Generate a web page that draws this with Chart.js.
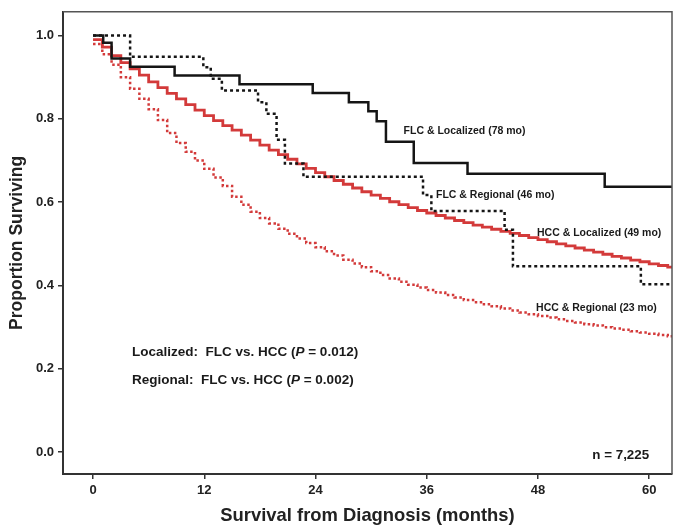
<!DOCTYPE html>
<html>
<head>
<meta charset="utf-8">
<script src="https://cdn.jsdelivr.net/npm/chart.js@4/dist/chart.umd.min.js"></script>
<style>
  body { margin: 0; background: #fff; }
  #caixa { width: 682px; height: 532px; }
</style>
</head>
<body>
<div id="caixa"><canvas id="grafico"></canvas></div>
<script>
// ticks
var ticksMeses = [0, 12, 24, 36, 48, 60];
var ticksProporcao = [0.0, 0.2, 0.4, 0.6, 0.8, 1.0];

// FLC & Localized (black solid)
var flcLocMeses = [0, 1.1, 2.0, 4.0, 8.8, 15.8, 23.7, 27.6, 29.7, 30.6, 31.6, 34.6, 40.4, 55.2, 63];
var flcLocValores = [1.0, 0.983, 0.945, 0.925, 0.904, 0.883, 0.862, 0.840, 0.818, 0.794, 0.745, 0.694, 0.668, 0.637, 0.637];

// FLC & Regional (black dotted)
var flcRegMeses = [0, 4.0, 11.9, 12.7, 13.9, 17.8, 18.7, 19.8, 20.7, 22.7, 35.6, 36.5, 44.4, 45.3, 59.1, 63];
var flcRegValores = [1.0, 0.949, 0.924, 0.896, 0.868, 0.840, 0.812, 0.750, 0.693, 0.661, 0.617, 0.579, 0.534, 0.446, 0.403, 0.403];

// HCC (steps roughly monthly)
var hccMeses = [0, 1, 2, 3, 4, 5, 6, 7, 8, 9, 10, 11, 12, 13, 14, 15, 16, 17, 18, 19, 20,
  21, 22, 23, 24, 25, 26, 27, 28, 29, 30, 31, 32, 33, 34, 35, 36, 37, 38, 39, 40, 41, 42,
  43, 44, 45, 46, 47, 48, 49, 50, 51, 52, 53, 54, 55, 56, 57, 58, 59, 60, 61, 62, 63];

var hccLocValores = [0.990, 0.972, 0.952, 0.935, 0.920, 0.905, 0.889, 0.875, 0.861, 0.848,
  0.834, 0.821, 0.808, 0.796, 0.784, 0.773, 0.761, 0.749, 0.737, 0.725, 0.714, 0.703, 0.692,
  0.681, 0.671, 0.661, 0.652, 0.643, 0.634, 0.625, 0.617, 0.609, 0.601, 0.594, 0.587, 0.580,
  0.574, 0.568, 0.562, 0.556, 0.551, 0.545, 0.540, 0.535, 0.530, 0.525, 0.520, 0.515, 0.510,
  0.505, 0.500, 0.495, 0.490, 0.485, 0.480, 0.475, 0.470, 0.466, 0.461, 0.457, 0.452, 0.448,
  0.444, 0.441];

var hccRegValores = [0.980, 0.955, 0.930, 0.900, 0.872, 0.848, 0.823, 0.797, 0.766, 0.742,
  0.721, 0.700, 0.680, 0.659, 0.639, 0.613, 0.594, 0.577, 0.562, 0.549, 0.536, 0.524, 0.513,
  0.502, 0.492, 0.482, 0.472, 0.462, 0.453, 0.444, 0.434, 0.425, 0.417, 0.409, 0.402, 0.395,
  0.389, 0.383, 0.377, 0.371, 0.365, 0.360, 0.355, 0.350, 0.345, 0.340, 0.335, 0.331, 0.327,
  0.323, 0.319, 0.315, 0.311, 0.307, 0.304, 0.300, 0.297, 0.294, 0.290, 0.287, 0.284, 0.281,
  0.278, 0.276];

var nomesSeries = ['FLC & Localized (78 mo)', 'FLC & Regional (46 mo)', 'HCC & Localized (49 mo)', 'HCC & Regional (23 mo)'];

function pontos(meses, valores) {
  var lista = [];
  for (var i = 0; i < meses.length; i++) {
    lista.push({ x: meses[i], y: valores[i] });
  }
  return lista;
}

var preto = '#151515';
var vermelho = '#d33a3a';
var fonte = '"Liberation Sans", Arial, sans-serif';

// where the text labels sit, in data units
var rotulos = [
  { texto: nomesSeries[0], x: 33.5, y: 0.771 },
  { texto: nomesSeries[1], x: 37.0, y: 0.616 },
  { texto: nomesSeries[2], x: 47.9, y: 0.525 },
  { texto: nomesSeries[3], x: 47.8, y: 0.346 }
];

var pluginTextos = {
  id: 'textos',
  afterDatasetsDraw: function (chart) {
    var ctx = chart.ctx;
    var sx = chart.scales.x;
    var sy = chart.scales.y;
    var area = chart.chartArea;

    ctx.save();
    // frame on top and right
    ctx.strokeStyle = '#555';
    ctx.lineWidth = 1.5;
    ctx.beginPath();
    ctx.moveTo(area.left, area.top);
    ctx.lineTo(area.right, area.top);
    ctx.lineTo(area.right, area.bottom);
    ctx.stroke();

    ctx.fillStyle = '#1a1a1a';
    ctx.textBaseline = 'middle';
    ctx.textAlign = 'left';
    ctx.font = 'bold 10.5px ' + fonte;
    for (var i = 0; i < rotulos.length; i++) {
      var r = rotulos[i];
      ctx.fillText(r.texto, sx.getPixelForValue(r.x), sy.getPixelForValue(r.y));
    }

    var linhasP = [
      ['Localized:  FLC vs. HCC (', 'P', ' = 0.012)', 0.239],
      ['Regional:  FLC vs. HCC (', 'P', ' = 0.002)', 0.172]
    ];
    for (var j = 0; j < linhasP.length; j++) {
      var l = linhasP[j];
      var px = sx.getPixelForValue(4.2);
      var py = sy.getPixelForValue(l[3]);
      ctx.font = 'bold 13.5px ' + fonte;
      ctx.fillText(l[0], px, py);
      px += ctx.measureText(l[0]).width;
      ctx.font = 'italic bold 13.5px ' + fonte;
      ctx.fillText(l[1], px, py);
      px += ctx.measureText(l[1]).width;
      ctx.font = 'bold 13.5px ' + fonte;
      ctx.fillText(l[2], px, py);
    }

    ctx.font = 'bold 13.4px ' + fonte;
    ctx.textAlign = 'right';
    ctx.fillText('n = 7,225', sx.getPixelForValue(60.0), sy.getPixelForValue(-0.007));
    ctx.restore();
  }
};

var ctx = document.getElementById('grafico').getContext('2d');

var grafico = new Chart(ctx, {
  type: 'line',
  data: {
    datasets: [
      {
        label: nomesSeries[0],
        data: pontos(flcLocMeses, flcLocValores),
        borderColor: preto,
        borderWidth: 2.5,
        stepped: 'before'
      },
      {
        label: nomesSeries[1],
        data: pontos(flcRegMeses, flcRegValores),
        borderColor: preto,
        borderWidth: 2.5,
        borderDash: [3, 3],
        stepped: 'before'
      },
      {
        label: nomesSeries[2],
        data: pontos(hccMeses, hccLocValores),
        borderColor: vermelho,
        borderWidth: 2.8,
        stepped: 'before'
      },
      {
        label: nomesSeries[3],
        data: pontos(hccMeses, hccRegValores),
        borderColor: vermelho,
        borderWidth: 2.5,
        borderDash: [2.5, 2.5],
        stepped: 'before'
      }
    ]
  },
  options: {
    responsive: true,
    maintainAspectRatio: false,
    animation: false,
    layout: { padding: { top: 9, right: 10, left: 0, bottom: 0 } },
    elements: { point: { radius: 0 }, line: { fill: false, tension: 0 } },
    plugins: {
      legend: { display: false },
      tooltip: { enabled: false }
    },
    scales: {
      x: {
        type: 'linear',
        min: -3.24,
        max: 62.46,
        afterBuildTicks: function (scale) {
          scale.ticks = ticksMeses.map(function (v) { return { value: v }; });
        },
        afterFit: function (scale) { scale.height = 58; },
        border: { display: true, color: '#333', width: 2 },
        grid: { display: true, drawOnChartArea: false, drawTicks: true, tickLength: 5, color: '#333', lineWidth: 1.5 },
        ticks: {
          color: '#222',
          padding: 4,
          maxRotation: 0,
          font: { family: fonte, size: 13, weight: 'bold' }
        },
        title: {
          display: true,
          text: 'Survival from Diagnosis (months)',
          color: '#222',
          padding: { top: 0, bottom: 5 },
          font: { family: fonte, size: 18.4, weight: 'bold' }
        }
      },
      y: {
        type: 'linear',
        min: -0.0525,
        max: 1.057,
        afterBuildTicks: function (scale) {
          scale.ticks = ticksProporcao.map(function (v) { return { value: v }; });
        },
        afterFit: function (scale) { scale.width = 63; },
        border: { display: true, color: '#333', width: 2 },
        grid: { display: true, drawOnChartArea: false, drawTicks: true, tickLength: 5, color: '#333', lineWidth: 1.5 },
        ticks: {
          color: '#222',
          padding: 4,
          font: { family: fonte, size: 13, weight: 'bold' },
          callback: function (v) { return Number(v).toFixed(1); }
        },
        title: {
          display: true,
          text: 'Proportion Surviving',
          color: '#222',
          padding: { top: 7, bottom: 0 },
          font: { family: fonte, size: 17.5, weight: 'bold' }
        }
      }
    }
  },
  plugins: [pluginTextos]
});
</script>
</body>
</html>
